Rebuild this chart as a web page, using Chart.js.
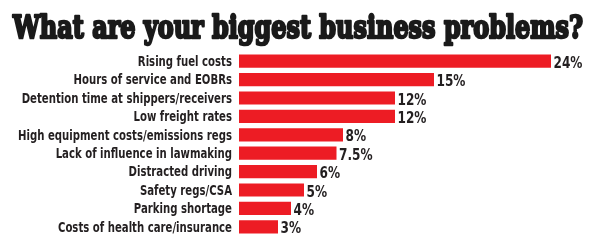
<!DOCTYPE html>
<html>
<head>
<meta charset="utf-8">
<script src="https://cdn.jsdelivr.net/npm/chart.js@4.4.1/dist/chart.umd.min.js"></script>
<style>
  html, body { margin: 0; padding: 0; background: #ffffff; }
  #wrap { position: relative; width: 600px; height: 248px; }
  canvas { display: block; }
</style>
</head>
<body>
<div id="wrap"><canvas id="c" width="600" height="248"></canvas></div>
<script>
const titleText = "What are your biggest business problems?";
const categories = [
  "Rising fuel costs",
  "Hours of service and EOBRs",
  "Detention time at shippers/receivers",
  "Low freight rates",
  "High equipment costs/emissions regs",
  "Lack of influence in lawmaking",
  "Distracted driving",
  "Safety regs/CSA",
  "Parking shortage",
  "Costs of health care/insurance"
];
const values = [24, 15, 12, 12, 8, 7.5, 6, 5, 4, 3];
const valueLabels = ["24%", "15%", "12%", "12%", "8%", "7.5%", "6%", "5%", "4%", "3%"];

const RED = "#ed1c24";
const INK = "#231f20";
const labelFont = "'DejaVu Sans Condensed', 'DejaVu Sans', sans-serif";

const titlePlugin = {
  id: "fittedTitle",
  afterDraw(chart) {
    const ctx = chart.ctx;
    ctx.save();
    ctx.font = "bold 32px 'DejaVu Serif', serif";
    ctx.fillStyle = "#1a1a1a";
    ctx.strokeStyle = "#1a1a1a";
    ctx.lineWidth = 2.6;
    ctx.lineJoin = "round";
    ctx.textBaseline = "alphabetic";
    ctx.textAlign = "left";
    const w = ctx.measureText(titleText).width;
    const target = 570;
    ctx.translate(13, 38);
    ctx.scale(target / w, 1);
    ctx.fillText(titleText, 0, 0);
    ctx.strokeText(titleText, 0, 0);
    ctx.restore();
  }
};

// Category labels drawn at the y scale's tick positions, horizontally condensed
const categoryLabelPlugin = {
  id: "categoryLabels",
  afterDraw(chart) {
    const ctx = chart.ctx;
    const yScale = chart.scales.y;
    ctx.save();
    ctx.font = "bold 13.5px " + labelFont;
    ctx.fillStyle = INK;
    ctx.textBaseline = "alphabetic";
    ctx.textAlign = "right";
    const longest = Math.max(...categories.map(c => ctx.measureText(c).width));
    const sx = 214 / longest;
    const right = chart.chartArea.left - 7;
    categories.forEach((c, i) => {
      const y = yScale.getPixelForTick(i);
      ctx.save();
      ctx.translate(right, y + 4.8);
      ctx.scale(sx, 1);
      ctx.fillText(c, 0, 0);
      ctx.restore();
    });
    ctx.restore();
  }
};

const valueLabelPlugin = {
  id: "valueLabels",
  afterDatasetsDraw(chart) {
    const ctx = chart.ctx;
    const meta = chart.getDatasetMeta(0);
    ctx.save();
    ctx.font = "bold 15px " + labelFont;
    ctx.fillStyle = INK;
    ctx.textAlign = "left";
    ctx.textBaseline = "alphabetic";
    const sx = 29 / ctx.measureText(valueLabels[0]).width;
    meta.data.forEach((bar, i) => {
      ctx.save();
      ctx.translate(bar.x + 2.5, bar.y + 6.5);
      ctx.scale(sx, 1);
      ctx.fillText(valueLabels[i], 0, 0);
      ctx.restore();
    });
    ctx.restore();
  }
};

new Chart(document.getElementById("c"), {
  type: "bar",
  data: {
    labels: categories,
    datasets: [{
      data: values,
      backgroundColor: RED,
      borderWidth: 0,
      barPercentage: 0.72,
      categoryPercentage: 1.0
    }]
  },
  options: {
    indexAxis: "y",
    responsive: false,
    animation: false,
    devicePixelRatio: 1,
    layout: { padding: { top: 52, bottom: 12, left: 0, right: 10 } },
    plugins: {
      legend: { display: false },
      title: { display: false },
      tooltip: { enabled: false }
    },
    scales: {
      x: {
        display: false,
        min: 0,
        max: 27
      },
      y: {
        grid: { display: false, drawTicks: false },
        border: { display: false },
        ticks: { display: false },
        afterFit(scale) { scale.width = 239; }
      }
    }
  },
  plugins: [titlePlugin, categoryLabelPlugin, valueLabelPlugin]
});
</script>
</body>
</html>
